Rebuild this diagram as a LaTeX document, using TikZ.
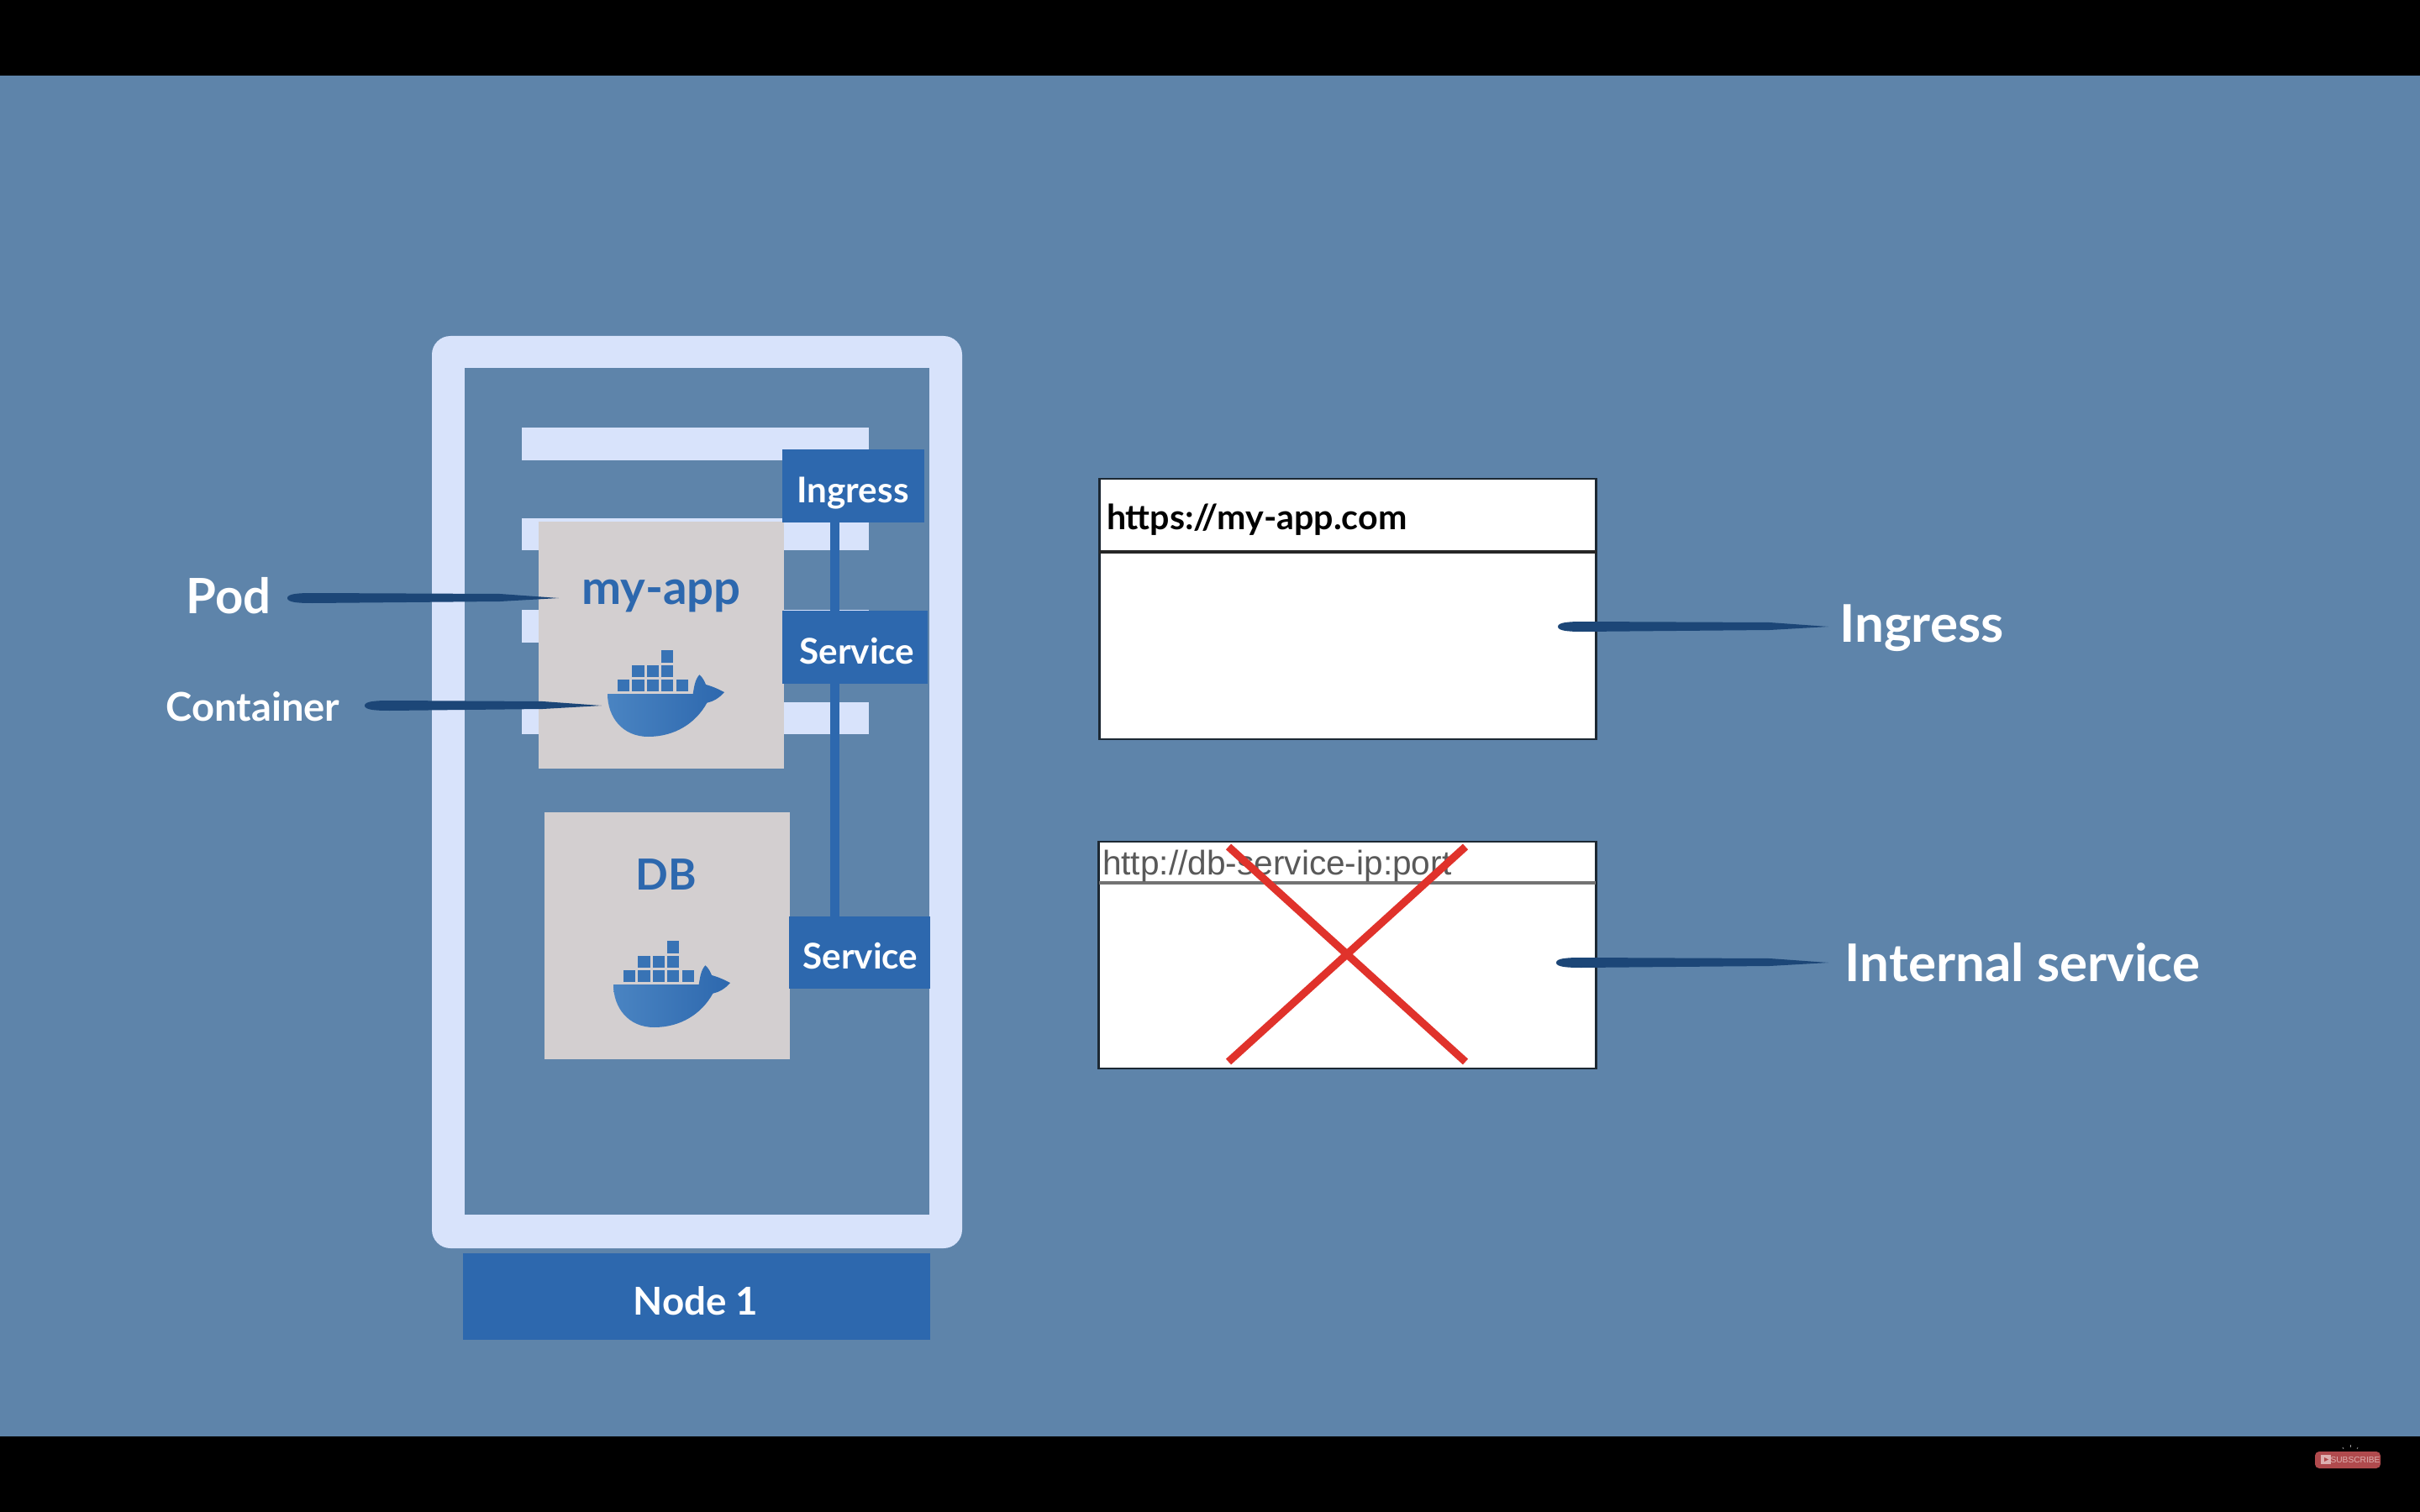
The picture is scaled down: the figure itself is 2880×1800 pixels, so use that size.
\documentclass[tikz,border=0pt]{standalone}
\usepackage{fontspec}
\setmainfont{Lato}
\newfontfamily\plainfont{Liberation Sans}
\usepackage{xcolor}
\usetikzlibrary{calc,positioning}

\definecolor{slatebg}{HTML}{5E84AA}
\definecolor{framecol}{HTML}{D8E3FB}
\definecolor{nodeblue}{HTML}{2D68AE}
\definecolor{whaleblue}{HTML}{3873B5}
\definecolor{whalelight}{HTML}{4A84C2}
\definecolor{podgray}{HTML}{D3CFD0}
\definecolor{inkblue}{HTML}{1C4677}
\definecolor{crossred}{HTML}{E0322B}
\definecolor{badgered}{HTML}{B04A4D}
\definecolor{badgetext}{HTML}{DDB0B0}

\newcommand{\brushstroke}[2]{%
  \fill[inkblue] (#1)
    .. controls ($(#1)+(0,-5)$) and ($(#1)+(12,-6)$) .. ($(#1)+(30,-6)$)
    -- ($(#2)+(-70,-5)$) -- (#2) -- ($(#2)+(-70,4)$) -- ($(#1)+(30,6)$)
    .. controls ($(#1)+(12,6)$) and ($(#1)+(0,5)$) .. (#1) -- cycle;}

\begin{document}
\begin{tikzpicture}[
    x=0.01cm,
    y=-0.01cm,
    every node/.style={inner sep=0pt,outer sep=0pt},
    barfill/.style={fill=framecol},
    podbox/.style={fill=podgray,minimum width=2.92cm,minimum height=2.93cm},
    svcbox/.style={fill=nodeblue,minimum width=1.69cm,minimum height=.86cm},
    svctext/.style={text=white,font=\fontsize{12}{14}\selectfont\bfseries},
    podtext/.style={text=nodeblue,font=\fontsize{16}{18}\selectfont\bfseries},
    sidetext/.style={text=white,font=\fontsize{17.6}{20}\selectfont\bfseries},
    browser/.style={draw=black!70!slatebg,line width=.8pt,fill=white,minimum width=5.91cm},
    link/.style={draw=nodeblue,line width=3.3pt},
    whale/.pic={
        \foreach \bx/\by in {64/-52,29.4/-34.3,46.7/-34.3,64/-34.3,
                             12/-17.3,29.4/-17.3,46.7/-17.3,64/-17.3,82/-17.3}
            \fill[whaleblue] (\bx,\by) rectangle ++(14.3,14.5);
        \shade[left color=whalelight,right color=nodeblue]
            (0,0) -- (101.7,0)
            .. controls (103,-8) and (104,-17) .. (109.4,-22.7)
            .. controls (113,-20) and (116,-14) .. (117,-11)
            .. controls (125,-9) and (133,-5) .. (139,-2)
            .. controls (133,5) and (126,9) .. (118.4,10.7)
            .. controls (105,35) and (80,51) .. (48.4,51)
            .. controls (18,51) and (0,28) .. (0,0) -- cycle;
    }
]
\useasboundingbox (0,0) rectangle (2880,1800);

% Screen
\fill[black] (0,0) rectangle (2880,1800);
\fill[slatebg] (0,90) rectangle (2880,1710);

% Worker frame
\fill[framecol,rounded corners=.22cm] (514,400) rectangle (1145,1486);
\fill[slatebg] (553,438) rectangle (1106,1446);

% Background bars
\fill[barfill] (621,509) rectangle (1034,548);
\fill[barfill] (621,617) rectangle (1034,655);
\fill[barfill] (621,726) rectangle (1034,765);
\fill[barfill] (621,836) rectangle (1034,874);

% Pods
\node[podbox] (apppod) at (787,768) {};
\node[podbox,minimum width=2.91cm] (dbpod) at (794,1114) {};
\node[podtext] (applabel) at (787,710) {my-app};
\node[podtext,font=\fontsize{14.5}{16}\selectfont\bfseries] (dblabel) at (793,1041) {DB};
\pic at (723,826) {whale};
\pic at (730,1172) {whale};

% Ingress and services
\node[svcbox] (ingress) at (1015.5,578.5) {};
\node[svcbox,minimum width=1.73cm] (appservice) at (1017.5,770.5) {};
\node[svcbox,minimum width=1.68cm] (dbservice) at (1022.8,1134) {};
\node[svctext] at (1015,587) {Ingress};
\node[svctext] at (1020,775) {Service};
\node[svctext] at (1024,1138) {Service};

\coordinate (linktop) at ($(ingress.south west)!.37!(ingress.south east)$);
\draw[link] (linktop) -- (linktop |- appservice.north);
\draw[link] (linktop |- appservice.south) -- (linktop |- dbservice.north);

% Node bar
\fill[nodeblue] (551,1492) rectangle (1107,1595);
\node[text=white,font=\fontsize{13}{15}\selectfont\bfseries] (nodebar) at (828,1549) {Node 1};

% Browsers
\node[browser,minimum height=3.1cm] (ingressbrowser) at (1604,725) {};
\draw[black!85,line width=1pt] (ingressbrowser.west |- 0,657) -- (ingressbrowser.east |- 0,657);
\node[anchor=west,font=\fontsize{11.7}{14}\selectfont\bfseries] (appurl) at (1317,619) {https://my-app.com};

\node[browser,minimum height=2.7cm] (dbbrowser) at (1603.5,1137) {};
\draw[black!55,line width=1pt] (dbbrowser.west |- 0,1051) -- (dbbrowser.east |- 0,1051);
\node[anchor=west,text=black!65,font=\fontsize{11.55}{14}\plainfont] (dburl) at (1312,1031) {http://db-service-ip:port};

% Cross
\coordinate (crossnw) at (1462,1008);
\coordinate (crossse) at (1744,1264);
\coordinate (crossne) at (1744,1008);
\coordinate (crosssw) at (1462,1264);
\draw[crossred,line width=2.6pt] (crossnw) -- (crossse);
\draw[crossred,line width=2.6pt] (crossne) -- (crosssw);

% Side labels
\node[sidetext,font=\fontsize{16.5}{18}\selectfont\bfseries] (podside) at (272,709) {Pod};
\node[sidetext,font=\fontsize{13.4}{15}\selectfont\bfseries] (containerside) at (301,841) {Container};
\node[sidetext] (ingressside) at (2287,748) {Ingress};
\node[sidetext] (internalside) at (2407,1146) {Internal service};

\coordinate (podstart) at (342,712);
\coordinate (podtip) at (665,712);
\coordinate (containerstart) at (434,840);
\coordinate (containertip) at (716,840);
\coordinate (ingressstart) at (1854,746);
\coordinate (ingresstip) at (2176,746);
\coordinate (internalstart) at (1852,1146);
\coordinate (internaltip) at (2176,1146);
\brushstroke{podstart}{podtip}
\brushstroke{containerstart}{containertip}
\brushstroke{ingressstart}{ingresstip}
\brushstroke{internalstart}{internaltip}

% Subscribe badge
\fill[badgered,rounded corners=.05cm] (2755,1728) rectangle (2833,1748);
\fill[badgetext] (2762,1732) rectangle (2774,1743);
\fill[badgered] (2766,1735) -- (2771,1737.5) -- (2766,1740) -- cycle;
\node[text=badgetext,font=\fontsize{2.9}{3}\plainfont] (badge) at (2803,1738) {SUBSCRIBE};
\draw[black!40!white,line width=.25pt] (2797,1720) -- (2797,1723);
\draw[black!40!white,line width=.2pt] (2788,1723) -- (2789,1725);
\draw[black!40!white,line width=.2pt] (2806,1723) -- (2805,1725);

\end{tikzpicture}
\end{document}
